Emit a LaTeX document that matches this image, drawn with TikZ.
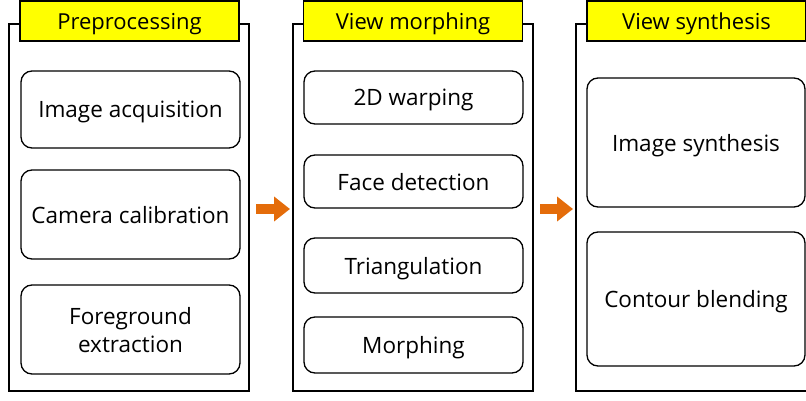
\documentclass[tikz,border=0pt]{standalone}
\usepackage{fontspec}
\setmainfont{Open Sans}
\usetikzlibrary{arrows.meta}
\definecolor{titleyellow}{HTML}{FFFF00}
\definecolor{floworange}{HTML}{E46C0A}
\tikzset{
  font={\fontsize{22.5pt}{28pt}\selectfont}}

\begin{document}
\begin{tikzpicture}[x=1pt, y=-1pt,
  frame/.style = {draw, line width=2pt, minimum width=240pt, minimum height=367pt},
  title/.style = {draw, line width=1.3pt, fill=titleyellow, minimum width=219pt, minimum height=40pt, inner sep=0pt, text depth=0pt, font={\fontsize{22pt}{28pt}\selectfont}},
  task/.style = {draw, line width=1.3pt, rounded corners=11pt, minimum width=219pt, align=center, inner sep=0pt, text depth=0pt},
  flow/.style = {line width=10pt, draw=floworange, -{Triangle[length=16pt, width=24pt]}, shorten <=6pt, shorten >=2pt}]
\clip (0,0) rectangle (806,401);
\fill[white] (0,0) rectangle (806,401);

% three stages
\node[frame] (pre) at (129,207.5) {};
\node[frame] (morph) at (413,207.5) {};
\node[frame] (syn) at (696,207.5) {};

\node[title] (t1) at (129.5,21) {Preprocessing};
\node[title] (t2) at (413,21) {View morphing};
\node[title] (t3) at (696.5,21) {View synthesis};

% preprocessing
\node[task, minimum height=77pt] (acq) at (130.5,109.5) {Image acquisition};
\node[task, minimum height=89pt] (calib) at (130.5,214.5) {Camera calibration};
\node[task, minimum height=89pt] (fg) at (130.5,329.5) {Foreground\\extraction};

% view morphing
\node[task, minimum height=53pt] (warp) at (413.5,97.5) {2D warping};
\node[task, minimum height=53pt] (face) at (413.5,181.5) {Face detection};
\node[task, minimum height=55pt] (tri) at (413.5,265.5) {Triangulation};
\node[task, minimum height=56pt] (mph) at (413.5,345) {Morphing};

% view synthesis
\node[task, minimum width=218pt, minimum height=129pt] (img) at (696,142.5) {Image synthesis};
\node[task, minimum width=218pt, minimum height=134pt] (blend) at (696,299) {Contour blending};

\draw[flow] ([yshift=-1.5pt]pre.east) -- ([yshift=-1.5pt]morph.west);
\draw[flow] ([yshift=-1.5pt]morph.east) -- ([yshift=-1.5pt]syn.west);
\end{tikzpicture}
\end{document}
